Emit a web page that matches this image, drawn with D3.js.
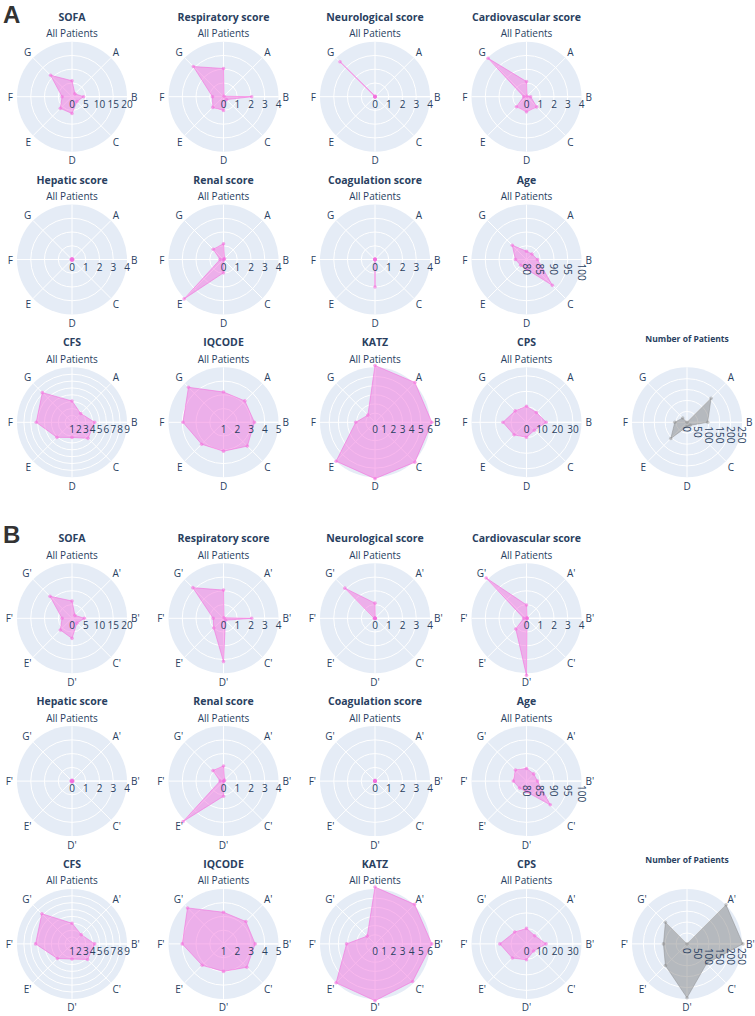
<!DOCTYPE html>
<html><head><meta charset="utf-8">
<script src="https://cdn.jsdelivr.net/npm/d3@7"></script>
<style>body{margin:0;background:#fff} svg{display:block}</style>
</head><body><svg id="c" width="755" height="1016"></svg>
<script>
// ---------- DATA ----------
const categoriesA = ["All Patients", "A", "B", "C", "D", "E", "F", "G"];
const categoriesB = ["All Patients", "A'", "B'", "C'", "D'", "E'", "F'", "G'"];
const patientCategoriesA = ["", "A", "B", "C", "D", "E", "F", "G"];
const patientCategoriesB = ["", "A'", "B'", "C'", "D'", "E'", "F'", "G'"];
const panelLabels = ["A", "B"];
const metricTitles = ["SOFA", "Respiratory score", "Neurological score", "Cardiovascular score",
  "Hepatic score", "Renal score", "Coagulation score", "Age",
  "CFS", "IQCODE", "KATZ", "CPS"];
const patientsTitle = "Number of Patients";

// tick labels / radial ranges
const sofaTicks = [0, 5, 10, 15, 20];
const scoreTicks = [0, 1, 2, 3, 4];
const ageTicks = [80, 85, 90, 95, 100];
const cfsTicks = [1, 2, 3, 4, 5, 6, 7, 8, 9];
const iqcodeTicks = [1, 2, 3, 4, 5];
const katzTicks = [0, 1, 2, 3, 4, 5, 6];
const cpsTicks = [0, 10, 20, 30];
const patientTicks = [0, 50, 100, 150, 200, 250];
const sofaRange = [0, 20], scoreRange = [0, 4], ageRange = [80, 100], cfsRange = [1, 9],
  iqcodeRange = [1, 5], katzRange = [0, 6], cpsRange = [0, 35.5], patientRange = [0, 252];

// values, order: All Patients, A, B, C, D, E, F, G
const sofaA = [5.8, 1.5, 4.2, 2.5, 6.1, 6.0, 3.6, 11.0];
const respiratoryA = [2.05, 0.05, 2.05, 0.3, 1.0, 1.1, 0.8, 3.1];
const neurologicalA = [0.05, 0, 0, 0, 0, 0, 0, 3.6];
const cardiovascularA = [1.1, 0.05, 0.3, 1.05, 1.1, 1.03, 0.2, 3.95];
const hepaticA = [0.05, 0.05, 0.05, 0.05, 0.05, 0.05, 0.05, 0.05];
const renalA = [1.15, 0.1, 0.02, 0.02, 0.97, 4.05, 0.25, 1.05];
const coagulationA = [0.05, 0, 0, 0, 2.0, 0, 0, 0];
const ageA = [83.0, 82.8, 84.0, 93.3, 83.5, 83.0, 84.0, 87.3];
const cfsA = [4.1, 2.8, 4.3, 4.3, 3.2, 4.1, 6.2, 7.1];
const iqcodeA = [3.2, 3.2, 3.25, 3.45, 3.1, 3.25, 3.95, 4.6];
const katzA = [6.2, 6.15, 6.2, 6.15, 6.15, 6.0, 2.1, 1.1];
const cpsA = [10.4, 9.0, 12.7, 7.2, 9.7, 11.4, 15.2, 10.4];
const patientsA = [0, 156, 95, 20, 20, 105, 56, 28];

const sofaB = [6.3, 1.5, 4.5, 2.5, 7.3, 6.0, 3.6, 11.3];
const respiratoryB = [2.05, 0.05, 2.05, 0.2, 3.15, 1.0, 0.75, 3.15];
const neurologicalB = [1.1, 0.02, 0.02, 0.02, 0.02, 0.02, 0.05, 3.1];
const cardiovascularB = [0.97, 0.05, 0.05, 0.05, 4.15, 1.1, 0.2, 4.15];
const hepaticB = [0.05, 0.05, 0.05, 0.05, 0.05, 0.05, 0.05, 0.05];
const renalB = [1.1, 0.1, 0.02, 0.02, 1.1, 4.15, 0.25, 1.08];
const coagulationB = [0.05, 0.02, 0.02, 0.02, 0.02, 0.02, 0.02, 0.02];
const ageB = [84.6, 83.7, 84.0, 92.2, 83.9, 83.6, 84.8, 85.7];
const cfsB = [4.0, 2.9, 4.3, 4.2, 3.2, 4.0, 6.3, 7.2];
const iqcodeB = [3.3, 3.3, 3.3, 3.4, 3.0, 3.2, 4.0, 4.7];
const katzB = [6.2, 6.1, 6.2, 5.8, 6.2, 6.0, 3.1, 1.2];
const cpsB = [10.0, 7.5, 12.6, 6.5, 10.2, 12.9, 17.2, 10.8];
const patientsB = [0, 253, 256, 127, 247, 140, 108, 140];

// ---------- BUILD ----------
const axisSpecs = [
  [sofaTicks, sofaRange, false], [scoreTicks, scoreRange, false], [scoreTicks, scoreRange, false], [scoreTicks, scoreRange, false],
  [scoreTicks, scoreRange, false], [scoreTicks, scoreRange, false], [scoreTicks, scoreRange, false], [ageTicks, ageRange, true],
  [cfsTicks, cfsRange, false], [iqcodeTicks, iqcodeRange, false], [katzTicks, katzRange, false], [cpsTicks, cpsRange, false]
];
const panelSeries = [
  [sofaA, respiratoryA, neurologicalA, cardiovascularA, hepaticA, renalA, coagulationA, ageA, cfsA, iqcodeA, katzA, cpsA],
  [sofaB, respiratoryB, neurologicalB, cardiovascularB, hepaticB, renalB, coagulationB, ageB, cfsB, iqcodeB, katzB, cpsB]
];
const panelCats = [categoriesA, categoriesB];
const panelPatientCats = [patientCategoriesA, patientCategoriesB];
const panelPatients = [patientsA, patientsB];

const svg = d3.select('#c');
const R = 55;
const colX = [72, 223.5, 375, 526.5];
const patientsX = 687;
const panelY0 = [96.7, 618.3];
const rowStep = 162.8;
const FONT = "'Open Sans', 'Noto Sans', sans-serif";
const TXT = '#2a3f5f';
const pink = '#f472de';
const grey = '#7f7f7f';

function drawChart(cx, cy, title, titleSize, titleDy, cats, values, ticks, domain, rotate, color, fillOpacity, strokeOpacity) {
  const g = svg.append('g').attr('transform', `translate(${cx},${cy})`);
  const r = d3.scaleLinear().domain(domain).range([0, R]);
  const n = cats.length;
  const ang = i => i * 2 * Math.PI / n;
  g.append('circle').attr('r', R).attr('fill', '#E5ECF6');
  g.selectAll('.gc').data(ticks.filter(t => t > domain[0] && r(t) < R - 0.5)).join('circle')
    .attr('r', d => r(d)).attr('fill', 'none').attr('stroke', '#fff').attr('stroke-width', 1);
  g.selectAll('.sp').data(cats).join('line')
    .attr('x1', 0).attr('y1', 0)
    .attr('x2', (d, i) => R * Math.sin(ang(i))).attr('y2', (d, i) => -R * Math.cos(ang(i)))
    .attr('stroke', '#fff').attr('stroke-width', 1);
  g.append('line').attr('x1', 0).attr('y1', 0).attr('x2', R).attr('y2', 0).attr('stroke', '#fff').attr('stroke-width', 1.2);

  const line = d3.lineRadial().angle((d, i) => ang(i)).radius(d => r(d)).curve(d3.curveLinearClosed);
  g.append('path').attr('d', line(values)).attr('fill', color).attr('fill-opacity', fillOpacity)
    .attr('stroke', color).attr('stroke-opacity', strokeOpacity).attr('stroke-width', 1).attr('stroke-linejoin', 'round');
  g.selectAll('.mk').data(values).join('circle')
    .attr('cx', (d, i) => r(d) * Math.sin(ang(i))).attr('cy', (d, i) => -r(d) * Math.cos(ang(i)))
    .attr('r', 1.8).attr('fill', color).attr('fill-opacity', strokeOpacity);

  // radial tick labels
  const tl = g.selectAll('.tl').data(ticks).join('text')
    .attr('font-family', FONT).attr('font-size', 10).attr('fill', TXT).text(d => d);
  if (rotate) {
    tl.attr('text-anchor', 'start').attr('dominant-baseline', 'central')
      .attr('transform', d => `translate(${r(d)},4) rotate(90)`);
  } else {
    tl.attr('text-anchor', 'middle').attr('x', d => r(d)).attr('y', 11);
  }
  // angular labels
  g.selectAll('.al').data(cats).join('text')
    .attr('font-family', FONT).attr('font-size', 10).attr('fill', TXT)
    .attr('text-anchor', 'middle').attr('dominant-baseline', 'central')
    .text(d => d)
    .each(function (d, i) {
      const a = ang(i), w = this.getComputedTextLength(), base = R + 4;
      const s = Math.sin(a), c = Math.cos(a);
      d3.select(this).attr('x', base * s + s * w / 2).attr('y', -base * c - c * 4.5);
    });
  g.append('text').attr('font-family', FONT).attr('font-size', titleSize).attr('font-weight', 'bold')
    .attr('fill', TXT).attr('text-anchor', 'middle').attr('dominant-baseline', 'central')
    .attr('y', titleDy).text(title);
}

panelLabels.forEach((lab, p) => {
  svg.append('text').attr('x', 3).attr('y', 23 + p * 519.5).attr('font-family', "'Liberation Sans', Arial, sans-serif")
    .attr('font-size', 24).attr('font-weight', 'bold').attr('fill', '#333').text(lab);
  metricTitles.forEach((t, k) => {
    const row = Math.floor(k / 4), col = k % 4;
    const [ticks, dom, rot] = axisSpecs[k];
    drawChart(colX[col], panelY0[p] + row * rowStep, t, 10.5, -80, panelCats[p], panelSeries[p][k], ticks, dom, rot, pink, 0.5, 0.6);
  });
  drawChart(patientsX, panelY0[p] + 2 * rowStep, patientsTitle, 8.5, -84, panelPatientCats[p], panelPatients[p],
    patientTicks, patientRange, true, grey, 0.47, 0.4);
});
</script></body></html>
